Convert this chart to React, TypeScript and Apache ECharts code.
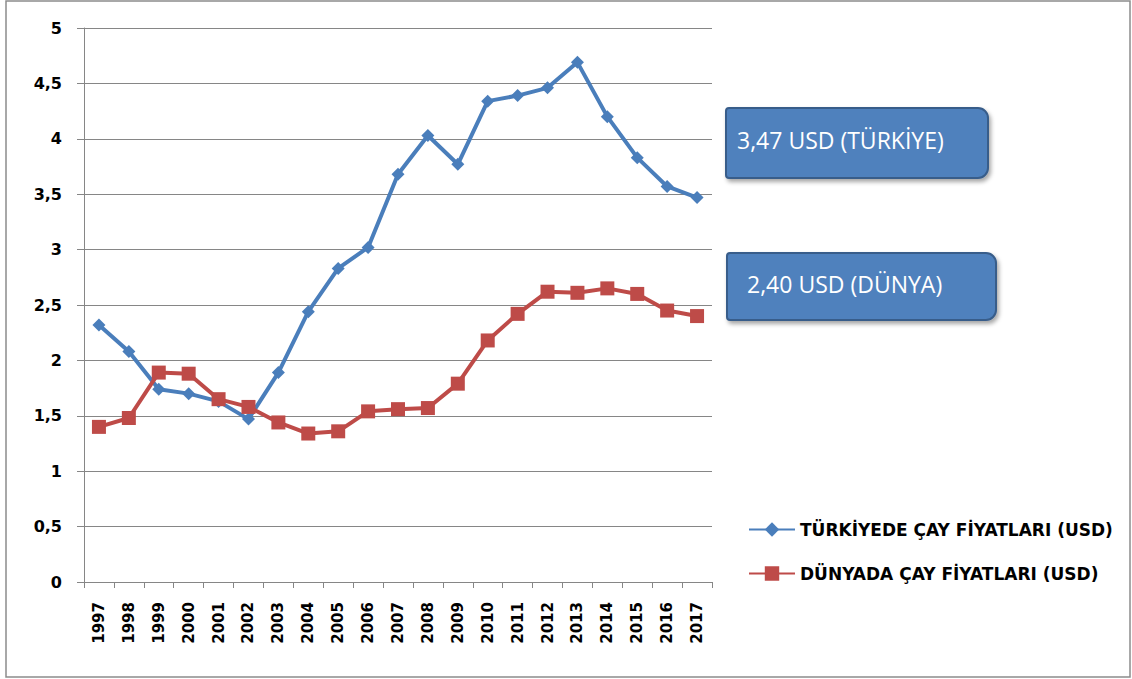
import React, { useEffect, useRef } from "react";
import * as echarts from "echarts";

const years = ["1997","1998","1999","2000","2001","2002","2003","2004","2005","2006","2007","2008","2009","2010","2011","2012","2013","2014","2015","2016","2017"];
const turkiye = [2.32,2.08,1.74,1.70,1.63,1.47,1.89,2.44,2.83,3.02,3.68,4.03,3.77,4.34,4.39,4.46,4.69,4.20,3.83,3.57,3.47];
const dunya = [1.40,1.48,1.89,1.88,1.65,1.58,1.44,1.34,1.36,1.54,1.56,1.57,1.79,2.18,2.42,2.62,2.61,2.65,2.60,2.45,2.40];
const seriesNames = ["TÜRKİYEDE ÇAY FİYATLARI (USD)", "DÜNYADA ÇAY FİYATLARI (USD)"];
const calloutTexts = ["3,47 USD (TÜRKİYE)", "2,40 USD (DÜNYA)"];

const BLUE = "#4A7EBB";
const RED = "#BE4B48";
const GRAY = "#868686";
const LABEL_FONT = "'DejaVu Sans', sans-serif";

export default function App() {
  const ref = useRef<HTMLDivElement>(null);
  useEffect(() => {
    if (!ref.current) return;
    const chart = echarts.init(ref.current, null, { renderer: "svg" });
    const callout = (x: number, y: number, w: number, h: number, text: string, tx: number) => ({
      type: "group",
      x,
      y,
      children: [
        {
          type: "rect",
          shape: { x: 0, y: 0, width: w, height: h, r: [3, 10, 10, 3] },
          style: {
            fill: "#4F81BD",
            stroke: "#385D8A",
            lineWidth: 2,
            shadowBlur: 4,
            shadowOffsetX: 2,
            shadowOffsetY: 3,
            shadowColor: "rgba(0,0,0,0.35)",
          },
        },
        {
          type: "text",
          x: tx,
          y: h / 2 - 3,
          style: {
            text,
            fill: "#ffffff",
            font: "23px 'Open Sans', sans-serif",
            textVerticalAlign: "middle",
          },
        },
      ],
    });
    chart.setOption({
      animation: false,
      backgroundColor: "#ffffff",
      grid: { left: 84, right: 420, top: 28, bottom: 97, containLabel: false },
      legend: {
        orient: "vertical",
        left: 748,
        top: 521,
        padding: 0,
        itemWidth: 46,
        itemHeight: 18,
        itemGap: 27,
        textStyle: { fontFamily: LABEL_FONT, fontWeight: "bold", fontSize: 17, color: "#000" },
        data: seriesNames,
      },
      xAxis: {
        type: "category",
        data: years,
        boundaryGap: true,
        axisLine: { lineStyle: { color: GRAY, width: 1 } },
        axisTick: { show: true, interval: 0, length: 6, lineStyle: { color: GRAY } },
        axisLabel: {
          interval: 0,
          rotate: 90,
          margin: 20,
          fontFamily: LABEL_FONT,
          fontWeight: "bold",
          fontSize: 15,
          color: "#000",
        },
        splitLine: { show: false },
      },
      yAxis: {
        type: "value",
        min: 0,
        max: 5,
        interval: 0.5,
        axisLine: { show: true, lineStyle: { color: GRAY, width: 1 } },
        axisTick: { show: true, length: 7, lineStyle: { color: GRAY } },
        axisLabel: {
          margin: 22,
          fontFamily: LABEL_FONT,
          fontWeight: "bold",
          fontSize: 16,
          color: "#000",
          formatter: (v: number) => String(v).replace(".", ","),
        },
        splitLine: { lineStyle: { color: GRAY, width: 1 } },
      },
      series: [
        {
          name: seriesNames[0],
          type: "line",
          data: turkiye,
          symbol: "diamond",
          symbolSize: 13,
          lineStyle: { color: BLUE, width: 4 },
          itemStyle: { color: BLUE },
        },
        {
          name: seriesNames[1],
          type: "line",
          data: dunya,
          symbol: "rect",
          symbolSize: 14,
          lineStyle: { color: RED, width: 4 },
          itemStyle: { color: RED },
        },
      ],
      graphic: [
        {
          type: "rect",
          shape: { x: 6, y: 1, width: 1124, height: 676 },
          style: { fill: "none", stroke: "#8c8c8c", lineWidth: 1.5 },
          silent: true,
        },
        callout(726, 108, 262, 70, calloutTexts[0], 11),
        callout(727, 253, 269, 67, calloutTexts[1], 20),
      ],
    });
    return () => chart.dispose();
  }, []);
  return (
    <div
      ref={ref}
      style={{ position: "fixed", left: 0, top: 0, width: 1132, height: 679 }}
    />
  );
}
